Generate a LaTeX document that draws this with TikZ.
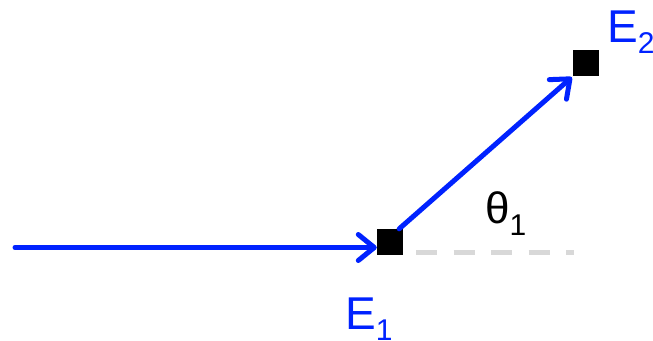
\documentclass[tikz,border=0pt]{standalone}
\usepackage{fontspec}
\setmainfont{Liberation Sans}
\usetikzlibrary{arrows.meta}
\definecolor{eblue}{RGB}{0,34,255}
\definecolor{dashgray}{RGB}{216,216,216}
\newcommand{\subs}[2][11pt]{\raisebox{-#1}{\fontsize{30}{30}\selectfont #2}}
\tikzset{
  block/.style={fill=black, draw=none, minimum size=26pt, inner sep=0pt},
  flow/.style={draw=eblue, line width=5pt, line cap=round,
    -{Straight Barb[length=16pt, width=26pt, line width=5pt, round]}},
  elabel/.style={text=eblue, anchor=base west, inner sep=0pt, font=\fontsize{46}{50}\selectfont},
  anglelabel/.style={text=black, anchor=base west, inner sep=0pt, font=\fontsize{44}{48}\selectfont},
  guide/.style={draw=dashgray, line width=5pt, dash pattern=on 21pt off 16.5pt}
}
\begin{document}
\begin{tikzpicture}[x=1pt,y=-1pt]
\useasboundingbox (0,0) rectangle (653,340);
\node[block] (e1) at (390,242) {};
\node[block] (e2) at (586,63) {};
\coordinate (start) at (15,247.5);
\coordinate (g0) at (416,252);
\coordinate (g1) at (574,252);
\draw[guide] (g0) -- (g1);
\draw[flow] (start) -- (start -| e1.west);
\draw[flow] ([xshift=-4pt]e1.north east) -- ([xshift=-1pt,yshift=-1pt]e2.south west);
\node[elabel] (l1) at (345,329) {E\subs{1}};
\node[elabel] (l2) at (607,42) {E\subs{2}};
\node[anglelabel] (th) at (485,223) {θ\subs[12pt]{1}};
\end{tikzpicture}
\end{document}
